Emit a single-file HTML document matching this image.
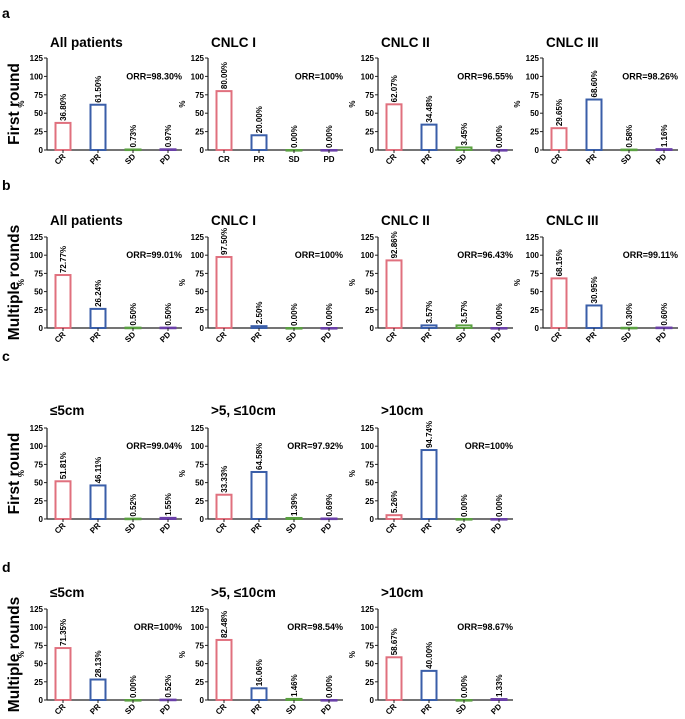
<!DOCTYPE html>
<html><head><meta charset="utf-8"><style>
body{margin:0;background:#fff;font-family:"Liberation Sans",Arial,sans-serif}
svg{display:block}
</style></head><body>
<svg id="fig" width="685" height="719" viewBox="0 0 685 719" xmlns="http://www.w3.org/2000/svg"></svg>
<script>
const categories = ["CR","PR","SD","PD"];
const panelTitles = [
 ["All patients","CNLC I","CNLC II","CNLC III"],
 ["All patients","CNLC I","CNLC II","CNLC III"],
 ["\u22645cm",">5, \u226410cm",">10cm"],
 ["\u22645cm",">5, \u226410cm",">10cm"]];
const rowA = [[36.80,61.50,0.73,0.97],[80.00,20.00,0.00,0.00],[62.07,34.48,3.45,0.00],[29.65,68.60,0.58,1.16]];
const rowB = [[72.77,26.24,0.50,0.50],[97.50,2.50,0.00,0.00],[92.86,3.57,3.57,0.00],[68.15,30.95,0.30,0.60]];
const rowC = [[51.81,46.11,0.52,1.55],[33.33,64.58,1.39,0.69],[5.26,94.74,0.00,0.00]];
const rowD = [[71.35,28.13,0.00,0.52],[82.48,16.06,1.46,0.00],[58.67,40.00,0.00,1.33]];
const orrA = ["ORR=98.30%","ORR=100%","ORR=96.55%","ORR=98.26%"];
const orrB = ["ORR=99.01%","ORR=100%","ORR=96.43%","ORR=99.11%"];
const orrC = ["ORR=99.04%","ORR=97.92%","ORR=100%"];
const orrD = ["ORR=100%","ORR=98.54%","ORR=98.67%"];
const yTicks = [0,25,50,75,100,125];
const rowLetters = ["a","b","c","d"];
const rowNames = ["First round","Multiple rounds","First round","Multiple rounds"];

const rowsData=[rowA,rowB,rowC,rowD], rowsOrr=[orrA,orrB,orrC,orrD];
const rowGeom=[{zero:150,top:58,title:42,letter:8},{zero:328,top:237,title:220,letter:180},{zero:519,top:428,title:410,letter:351},{zero:700,top:609,title:592,letter:562}];
const colX=[47,208,378,543];
const colors=["#e0707e","#3a5ea8","#5aa040","#6a3fa8"];
const NS="http://www.w3.org/2000/svg";
const svg=document.getElementById('fig');
function mk(tag,attrs,parent,text){const e=document.createElementNS(NS,tag);for(const k in attrs)e.setAttribute(k,attrs[k]);if(text!==undefined)e.textContent=text;(parent||svg).appendChild(e);return e;}

rowsData.forEach((row,r)=>{
 const g=rowGeom[r];
 const L=mk('text',{x:2,y:g.letter+10,'font-size':14,'font-weight':'bold'},svg,rowLetters[r]);
 
 const cy=(g.top+g.zero)/2;
 const RN=mk('text',{x:0,y:0,'font-size':15.5,'font-weight':'bold','text-anchor':'middle',transform:`translate(19,${cy}) rotate(-90)`},svg,rowNames[r]);
 
 row.forEach((vals,c)=>{
  const ax=colX[c];
  const grp=mk('g',{});
  
  
  const yS=v=>g.zero-(v/125)*(g.zero-g.top);
  const xS=i=>ax+16+i*35;
  const t=mk('text',{x:ax+3,y:g.title+5,'font-size':13.5,'font-weight':'bold'},grp,panelTitles[r][c]);
  
  const yl=mk('text',{x:0,y:0,'font-size':8,'font-weight':'bold','text-anchor':'middle',transform:`translate(${ax-23},${yS(62.5)}) rotate(-90)`},grp,'%');
  
  const ya=mk('line',{x1:ax,y1:g.top,x2:ax,y2:g.zero,stroke:'#222','stroke-width':1.2},grp);
  
  const xa=mk('line',{x1:ax,y1:g.zero,x2:ax+135,y2:g.zero,stroke:'#222','stroke-width':1.2},grp);
  
  yTicks.forEach(v=>{
   mk('line',{x1:ax-3,y1:yS(v),x2:ax,y2:yS(v),stroke:'#222','stroke-width':1},grp);
   const tl=mk('text',{x:ax-4,y:yS(v)+3,'font-size':8,'font-weight':'bold','text-anchor':'end'},grp,String(v));
   
  });
  const rotated=!(r===0&&c===1);
  categories.forEach((cat,i)=>{
   const v=vals[i], xc=xS(i);
   const y=yS(v), h=g.zero-y;
   const b=mk('rect',{x:xc-7.5,y:y,width:15,height:Math.max(h,0.6),fill:'none',stroke:colors[i],'stroke-width':2},grp);
   
   const vl=mk('text',{x:0,y:0,'font-size':8,'font-weight':'bold',transform:`translate(${xc+3},${y-2}) rotate(-90)`},grp,v.toFixed(2)+'%');
   
   mk('line',{x1:xc,y1:g.zero,x2:xc,y2:g.zero+3,stroke:'#222','stroke-width':1},grp);
   let xl;
   if(rotated) xl=mk('text',{x:0,y:0,'font-size':8,'font-weight':'bold','text-anchor':'end',transform:`translate(${xc+3},${g.zero+7}) rotate(-45)`},grp,cat);
   else xl=mk('text',{x:xc,y:g.zero+12,'font-size':8,'font-weight':'bold','text-anchor':'middle'},grp,cat);
   
  });
  const o=mk('text',{x:ax+135,y:yS(100)+3,'font-size':9,'font-weight':'bold','text-anchor':'end'},grp,rowsOrr[r][c]);
  
 });
});
</script>
</body></html>
